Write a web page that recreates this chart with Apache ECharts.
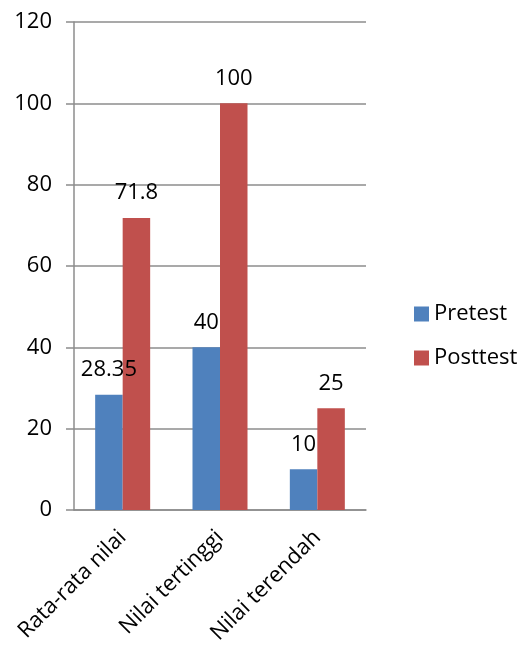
<!DOCTYPE html>
<html>
<head>
<meta charset="utf-8">
<script src="https://cdn.jsdelivr.net/npm/echarts@6/dist/echarts.min.js"></script>
<style>
  html, body { margin: 0; padding: 0; background: #fff; }
  #chart { width: 521px; height: 651px; }
</style>
</head>
<body>
<div id="chart"></div>
<script>
// Score summary: pretest vs posttest
const categories = ['Rata-rata nilai', 'Nilai tertinggi', 'Nilai terendah'];
const pretest = [28.35, 40, 10];
const posttest = [71.8, 100, 25];
const yTicks = { min: 0, max: 120, interval: 20 };

const FONT = '"Open Sans", Lato, sans-serif';
const FONT_SIZE = 22;
const GRID_COLOR = '#8c8c8c';

const chart = echarts.init(document.getElementById('chart'));

function barSeries(name, data, color) {
  return {
    name: name,
    type: 'bar',
    data: data,
    barWidth: 27.5,
    barGap: '0%',
    itemStyle: { color: color },
    label: {
      show: true,
      position: 'top',
      distance: 14,
      color: '#000',
      fontFamily: FONT,
      fontSize: FONT_SIZE
    }
  };
}

chart.setOption({
  animation: false,
  backgroundColor: '#fff',
  textStyle: { fontFamily: FONT },
  grid: { left: 74, right: 155, top: 22, bottom: 141, containLabel: false },
  legend: {
    orient: 'vertical',
    left: 409,
    top: 298,
    itemWidth: 15,
    itemHeight: 15,
    itemGap: 22,
    icon: 'rect',
    textStyle: { fontFamily: FONT, fontSize: FONT_SIZE, color: '#000' },
    data: ['Pretest', 'Posttest']
  },
  xAxis: {
    type: 'category',
    data: categories,
    axisLine: { lineStyle: { color: GRID_COLOR, width: 1.5 } },
    axisTick: { show: false },
    axisLabel: {
      rotate: 45,
      interval: 0,
      margin: 24,
      color: '#000',
      fontFamily: FONT,
      fontSize: FONT_SIZE
    }
  },
  yAxis: {
    type: 'value',
    min: yTicks.min,
    max: yTicks.max,
    interval: yTicks.interval,
    axisLine: { show: true, lineStyle: { color: GRID_COLOR, width: 1.5 } },
    axisTick: { show: true, length: 8, lineStyle: { color: GRID_COLOR, width: 1.5 } },
    splitLine: { show: true, lineStyle: { color: GRID_COLOR, width: 1.5 } },
    axisLabel: {
      margin: 22,
      color: '#000',
      fontFamily: FONT,
      fontSize: FONT_SIZE
    }
  },
  series: [
    barSeries('Pretest', pretest, '#4f81bd'),
    barSeries('Posttest', posttest, '#c0504d')
  ]
});
</script>
</body>
</html>
